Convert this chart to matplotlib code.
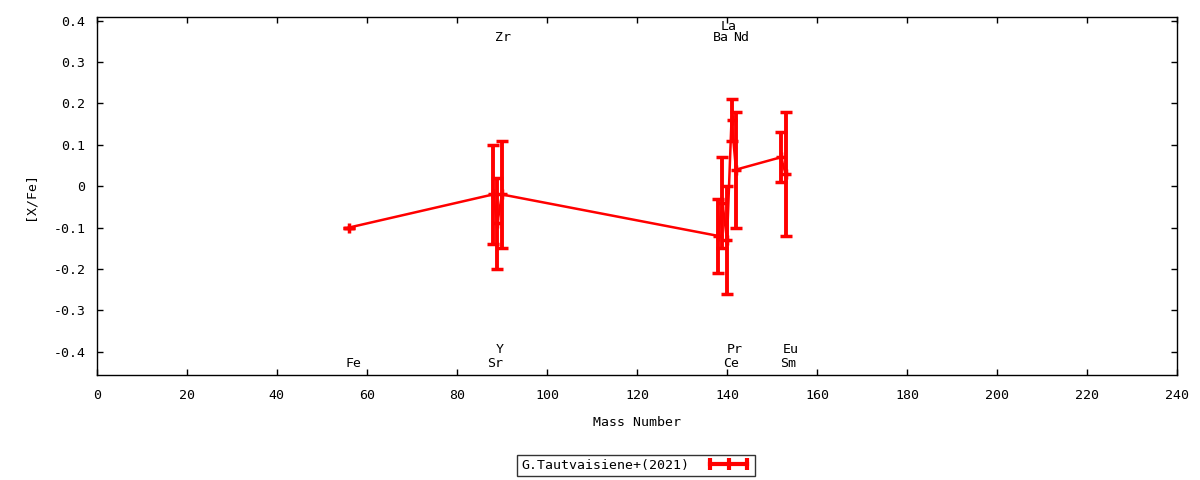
import numpy as np
import matplotlib.pyplot as plt
from matplotlib.lines import Line2D

plt.rcParams['font.family'] = ['DejaVu Sans Mono']

# data
elements = ["Fe", "Sr", "Y", "Zr", "Ba", "La", "Ce", "Pr", "Nd", "Sm", "Eu"]
mass = [56, 88, 89, 90, 138, 139, 140, 141, 142, 152, 153]
xfe = [-0.10, -0.02, -0.09, -0.02, -0.12, -0.04, -0.13, 0.16, 0.04, 0.07, 0.03]
err = [0.0, 0.12, 0.11, 0.13, 0.09, 0.11, 0.13, 0.05, 0.14, 0.06, 0.15]

# where the element names sit
label_x = [57.0, 88.5, 89.6, 90.2, 138.7, 140.3, 140.9, 141.8, 143.1, 153.5, 154.1]
label_y = [-0.428, -0.428, -0.395, 0.359, 0.359, 0.386, -0.428, -0.395, 0.359, -0.428, -0.395]

xticks = np.arange(0, 241, 20)
yticks = [-0.4, -0.3, -0.2, -0.1, 0, 0.1, 0.2, 0.3, 0.4]
ytick_labels = ["-0.4", "-0.3", "-0.2", "-0.1", "0", "0.1", "0.2", "0.3", "0.4"]

fig = plt.figure(figsize=(12, 4.8), dpi=100)
ax = fig.add_axes([0.0806, 0.2188, 0.9004, 0.7452])

ax.errorbar(mass, xfe, yerr=err, color="red", lw=1.8, marker="+", ms=7, mew=2.5,
            elinewidth=2.8, capsize=4, capthick=2.8)

for name, lx, ly in zip(elements, label_x, label_y):
    ax.text(lx, ly, name, ha="center", va="center", fontsize=9.5)

ax.set_xlim(0, 240)
ax.set_ylim(-0.456, 0.408)
ax.set_xticks(xticks)
ax.set_yticks(yticks)
ax.set_yticklabels(ytick_labels)
ax.tick_params(direction="in", length=4, width=1, top=True, right=True, labelsize=9.5)
ax.tick_params(axis="x", pad=10)
ax.tick_params(axis="y", pad=8)
for s in ax.spines.values():
    s.set_linewidth(1)

ax.set_xlabel("Mass Number", fontsize=9.5, labelpad=10)
ax.set_ylabel("[X/Fe]", fontsize=9.5, labelpad=12)

handle = Line2D([], [], color="red", lw=3, marker="|", ms=9, mew=3)
leg = fig.legend([handle], ["G.Tautvaisiene+(2021)"], loc="center",
                 bbox_to_anchor=(0.53, 0.031), numpoints=3, markerfirst=False,
                 fontsize=9.5, frameon=True, fancybox=False, handlelength=3.4,
                 borderpad=0.3, borderaxespad=0, handletextpad=1.3)
leg.get_frame().set_edgecolor("black")
leg.get_frame().set_linewidth(1)

fig.savefig("out.png", dpi=100)
